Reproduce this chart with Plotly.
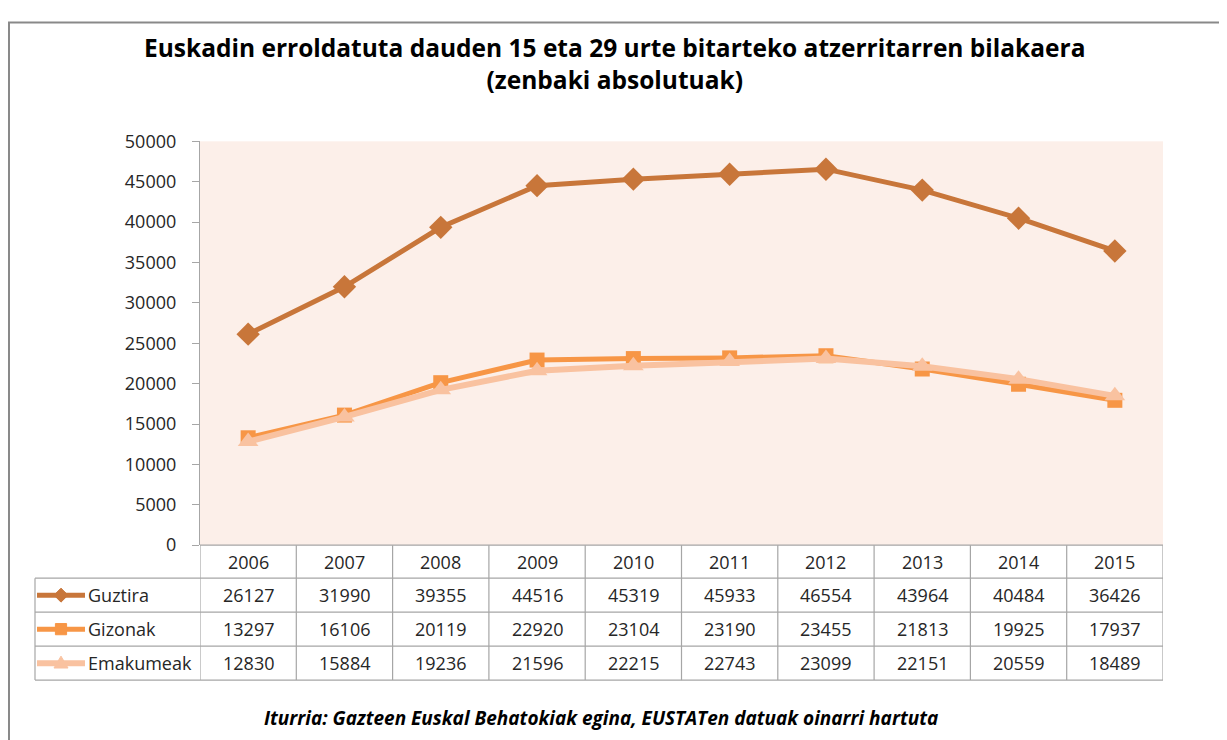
import plotly.graph_objects as go

years = ["2006", "2007", "2008", "2009", "2010", "2011", "2012", "2013", "2014", "2015"]
series_names = ["Guztira", "Gizonak", "Emakumeak"]
guztira = [26127, 31990, 39355, 44516, 45319, 45933, 46554, 43964, 40484, 36426]
gizonak = [13297, 16106, 20119, 22920, 23104, 23190, 23455, 21813, 19925, 17937]
emakumeak = [12830, 15884, 19236, 21596, 22215, 22743, 23099, 22151, 20559, 18489]
y_ticks = [0, 5000, 10000, 15000, 20000, 25000, 30000, 35000, 40000, 45000, 50000]

title_text = "Euskadin erroldatuta dauden 15 eta 29 urte bitarteko atzerritarren bilakaera<br>(zenbaki absolutuak)"
source_text = "Iturria: Gazteen Euskal Behatokiak egina, EUSTATen datuak oinarri hartuta"

W, H = 1227, 740
colors = ["#C8763A", "#F79646", "#F9C2A0"]
symbols = ["diamond", "square", "triangle-up"]
msizes = [18, 15, 18]
lwidths = [5, 5, 6]
FONT = "Open Sans"

# observed page offset / scale of the rendered figure
OX, OY, SY = 8.0, 20.6, 716.3

def px(x):
    return (x - OX) / W

def py(y):
    return 1 - (y - OY) / SY

plot_left, plot_right, plot_top, plot_bottom = 200, 1163, 141, 545
row_edges = [545, 578, 612, 646, 680]
table_left = 35

fig = go.Figure()
xs = list(range(len(years)))
for name, vals, c, s, ms, lw in zip(series_names, [guztira, gizonak, emakumeak], colors, symbols, msizes, lwidths):
    fig.add_trace(go.Scatter(x=xs, y=vals, mode="lines+markers", name=name,
                             line=dict(color=c, width=lw),
                             marker=dict(symbol=s, size=ms, color=c),
                             showlegend=False, hoverinfo="skip"))

shapes = []
line_col = "#A6A6A6"
shapes.append(dict(type="rect", xref="paper", yref="paper", x0=max(px(8), 0.0008), x1=0.998,
                   y0=-0.1, y1=min(py(6), 0.998),
                   line=dict(color="#898989", width=2), layer="below"))
shapes.append(dict(type="line", xref="paper", yref="paper", x0=px(plot_left), x1=px(plot_right),
                   y0=py(row_edges[0]), y1=py(row_edges[0]), line=dict(color=line_col, width=1.2)))
for r in row_edges[1:]:
    shapes.append(dict(type="line", xref="paper", yref="paper", x0=px(table_left), x1=px(plot_right),
                       y0=py(r), y1=py(r), line=dict(color=line_col, width=1.2)))
shapes.append(dict(type="line", xref="paper", yref="paper", x0=px(table_left), x1=px(table_left),
                   y0=py(row_edges[1]), y1=py(row_edges[-1]), line=dict(color=line_col, width=1.2)))
for i in range(len(years) + 1):
    shapes.append(dict(type="line", xref="x", yref="paper", x0=i - 0.5, x1=i - 0.5,
                       y0=py(row_edges[0]), y1=py(row_edges[-1]), line=dict(color=line_col, width=1.2)))

# legend glyphs in the table's first column
def glyph_path(sym, cx, cy, r):
    if sym == "diamond":
        pts = [(cx, cy - r), (cx + r, cy), (cx, cy + r), (cx - r, cy)]
    elif sym == "square":
        pts = [(cx - r * 0.8, cy - r * 0.8), (cx + r * 0.8, cy - r * 0.8), (cx + r * 0.8, cy + r * 0.8), (cx - r * 0.8, cy + r * 0.8)]
    else:
        pts = [(cx, cy - r), (cx + r, cy + r * 0.7), (cx - r, cy + r * 0.7)]
    return "M " + " L ".join(f"{px(a):.5f},{py(b):.5f}" for a, b in pts) + " Z"

for i, (c, s, lw) in enumerate(zip(colors, symbols, lwidths)):
    yc = (row_edges[i + 1] + row_edges[i + 2]) / 2
    shapes.append(dict(type="line", xref="paper", yref="paper", x0=px(37), x1=px(85), y0=py(yc), y1=py(yc),
                       line=dict(color=c, width=lw)))
    shapes.append(dict(type="path", xref="paper", yref="paper", path=glyph_path(s, 61, yc, 7),
                       fillcolor=c, line=dict(color=c, width=1)))

annotations = []
tfont = dict(family=FONT, size=18, color="#262626")
hy = (row_edges[0] + row_edges[1]) / 2
for i, yr in enumerate(years):
    annotations.append(dict(x=i, y=py(hy), xref="x", yref="paper", text=yr, showarrow=False,
                            xanchor="center", yanchor="middle", font=tfont))
for r, (name, vals) in enumerate(zip(series_names, [guztira, gizonak, emakumeak])):
    yc = (row_edges[r + 1] + row_edges[r + 2]) / 2
    annotations.append(dict(x=px(86), y=py(yc), xref="paper", yref="paper", text=name, showarrow=False,
                            xanchor="left", yanchor="middle", font=tfont))
    for i, v in enumerate(vals):
        annotations.append(dict(x=i, y=py(yc), xref="x", yref="paper", text=str(v), showarrow=False,
                                xanchor="center", yanchor="middle", font=tfont))
annotations.append(dict(x=px(614), y=py(63), xref="paper", yref="paper", text="<b>" + title_text + "</b>",
                        showarrow=False, xanchor="center", yanchor="middle",
                        font=dict(family=FONT, size=24.5, color="#000000")))
annotations.append(dict(x=px(601), y=py(718), xref="paper", yref="paper", text="<b><i>" + source_text + "</i></b>",
                        showarrow=False, xanchor="center", yanchor="middle",
                        font=dict(family=FONT, size=19, color="#000000")))

fig.update_layout(
    width=W, height=H, margin=dict(l=0, r=0, t=0, b=0),
    paper_bgcolor="white", plot_bgcolor="#FCEFE9",
    xaxis=dict(domain=[px(plot_left), px(plot_right)], range=[-0.5, len(years) - 0.5],
               showticklabels=False, showgrid=False, zeroline=False, ticks=""),
    yaxis=dict(domain=[py(plot_bottom), py(plot_top)], range=[0, 50000], tickvals=y_ticks,
               ticktext=[str(t) for t in y_ticks],
               showgrid=False, zeroline=False, showline=True, linecolor="#A6A6A6", linewidth=1.2,
               ticks="outside", ticklen=7, tickcolor="#A6A6A6", tickfont=tfont, ticklabelstandoff=12),
    shapes=shapes, annotations=annotations, showlegend=False,
)

fig.write_html("out.html")
